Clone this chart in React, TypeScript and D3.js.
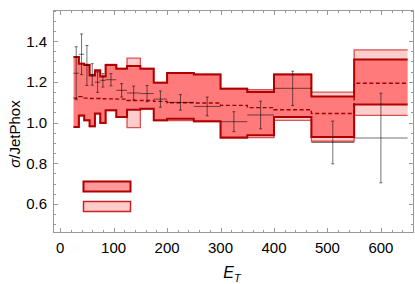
import React, { useEffect, useRef } from "react";
import * as d3 from "d3";

// E_T bin edges (GeV)
const binEdges = [25, 35, 45, 55, 65, 75, 85, 105, 125, 150, 175, 200, 250, 300, 350, 400, 470, 550, 650];

// inner (dark-edged) band
const innerUp = [1.322, 1.288, 1.283, 1.231, 1.256, 1.226, 1.283, 1.264, 1.277, 1.264, 1.195, 1.243, 1.236, 1.166, 1.150, 1.236, 1.128, 1.309];
const innerLo = [0.978, 1.035, 1.011, 0.982, 1.044, 0.998, 1.060, 1.027, 1.063, 1.068, 1.011, 1.018, 1.006, 0.926, 0.938, 1.027, 0.929, 1.088];

// outer (light) band
const outerUp = [1.324, 1.290, 1.285, 1.233, 1.258, 1.228, 1.285, 1.266, 1.316, 1.266, 1.197, 1.245, 1.238, 1.168, 1.161, 1.238, 1.149, 1.357];
const outerLo = [0.976, 1.033, 1.009, 0.980, 1.042, 0.996, 1.058, 1.025, 0.975, 1.066, 1.009, 1.010, 1.004, 0.924, 0.926, 1.011, 0.908, 1.035];

// central prediction (dashed)
const central = [1.120, 1.127, 1.120, 1.118, 1.118, 1.117, 1.116, 1.115, 1.108, 1.108, 1.104, 1.097, 1.096, 1.084, 1.073, 1.063, 1.044, 1.193];

// data / JetPhox with errors
const dataVal = [1.242, 1.335, 1.280, 1.236, 1.198, 1.207, 1.210, 1.158, 1.145, 1.142, 1.115, 1.099, 1.079, 1.004, 1.037, 1.168, 0.902, 0.924];
const dataErr = [0.130, 0.100, 0.098, 0.053, 0.050, 0.033, 0.030, 0.033, 0.034, 0.040, 0.040, 0.038, 0.046, 0.049, 0.068, 0.084, 0.105, 0.220];

const xTicks = [0, 100, 200, 300, 400, 500, 600];
const yTicks = [0.6, 0.8, 1.0, 1.2, 1.4];

const steps = (vals: number[]) =>
  vals.flatMap((v, i) => [[binEdges[i], v], [binEdges[i + 1], v]] as [number, number][]);

const App: React.FC = () => {
  const ref = useRef<SVGSVGElement>(null);

  useEffect(() => {
    const width = 415;
    const height = 284;
    const frame = { left: 53.5, right: 413.5, top: 10.5, bottom: 232.5 };
    const font = "'Liberation Sans', Arial, sans-serif";

    const svg = d3.select(ref.current).attr("width", width).attr("height", height);
    svg.selectAll("*").remove();

    const x = d3.scaleLinear().domain([-12.5, 661]).range([frame.left, frame.right]);
    const y = d3.scaleLinear().domain([0.46, 1.55]).range([frame.bottom, frame.top]);

    const bandArea = (up: number[], lo: number[]) => {
      const pts = steps(up).map((p, i) => [p[0], p[1], steps(lo)[i][1]]);
      return d3.area<number[]>()
        .x((d) => x(d[0]))
        .y1((d) => y(d[1]))
        .y0((d) => y(d[2]))(pts);
    };
    const stepLine = d3.line<[number, number]>().x((d) => x(d[0])).y((d) => y(d[1]));

    // outer band
    svg.append("path").attr("d", bandArea(outerUp, outerLo)!).attr("fill", "rgba(255,0,0,0.2)");
    [outerUp, outerLo].forEach((vals) => {
      svg.append("path").attr("d", stepLine(steps(vals))!)
        .attr("fill", "none").attr("stroke", "#cc2020").attr("stroke-opacity", 0.75).attr("stroke-width", 1.3);
    });

    // inner band
    svg.append("path").attr("d", bandArea(innerUp, innerLo)!).attr("fill", "rgba(255,0,0,0.4)");
    [innerUp, innerLo].forEach((vals) => {
      svg.append("path").attr("d", stepLine(steps(vals))!)
        .attr("fill", "none").attr("stroke", "#b00000").attr("stroke-width", 2);
    });

    // central dashed
    svg.append("path").attr("d", stepLine(steps(central))!)
      .attr("fill", "none").attr("stroke", "#a00000").attr("stroke-width", 1.4)
      .attr("stroke-dasharray", "4,2.5");

    // data points
    const pt = svg.append("g").attr("stroke", "rgba(0,0,0,0.55)").attr("stroke-width", 1);
    dataVal.forEach((v, i) => {
      const e0 = binEdges[i], e1 = binEdges[i + 1];
      const xc = x((e0 + e1) / 2);
      pt.append("line").attr("x1", x(e0)).attr("x2", x(e1)).attr("y1", y(v)).attr("y2", y(v));
      pt.append("line").attr("x1", xc).attr("x2", xc).attr("y1", y(v - dataErr[i])).attr("y2", y(v + dataErr[i]));
      [v - dataErr[i], v + dataErr[i]].forEach((yy) => {
        pt.append("line").attr("x1", xc - 1.5).attr("x2", xc + 1.5).attr("y1", y(yy)).attr("y2", y(yy));
      });
    });

    // legend boxes
    svg.append("rect").attr("x", 83.5).attr("y", 181.5).attr("width", 47).attr("height", 10)
      .attr("fill", "rgba(255,0,0,0.4)").attr("stroke", "#b00000").attr("stroke-width", 2);
    svg.append("rect").attr("x", 83.5).attr("y", 201.5).attr("width", 47).attr("height", 10)
      .attr("fill", "rgba(255,0,0,0.2)").attr("stroke", "#cc2020").attr("stroke-width", 1.5);

    // frame
    const frameColor = "#999999";
    svg.append("rect")
      .attr("x", frame.left).attr("y", frame.top)
      .attr("width", frame.right - frame.left).attr("height", frame.bottom - frame.top)
      .attr("fill", "none").attr("stroke", frameColor).attr("stroke-width", 1);

    const tk = svg.append("g").attr("stroke", frameColor).attr("stroke-width", 1);
    d3.range(0, 661, 20).forEach((t) => {
      const len = t % 100 === 0 ? 4.5 : 2.5;
      const xx = Math.round(x(t)) + 0.5;
      tk.append("line").attr("x1", xx).attr("x2", xx).attr("y1", frame.bottom).attr("y2", frame.bottom - len);
      tk.append("line").attr("x1", xx).attr("x2", xx).attr("y1", frame.top).attr("y2", frame.top + len);
    });
    d3.range(0.5, 1.551, 0.05).forEach((t) => {
      const major = Math.abs(t * 5 - Math.round(t * 5)) < 1e-6;
      const len = major ? 4.5 : 2.5;
      const yy = Math.round(y(t)) + 0.5;
      tk.append("line").attr("x1", frame.left).attr("x2", frame.left + len).attr("y1", yy).attr("y2", yy);
      tk.append("line").attr("x1", frame.right).attr("x2", frame.right - len).attr("y1", yy).attr("y2", yy);
    });

    // tick labels
    svg.append("g").selectAll("text").data(xTicks).join("text")
      .attr("x", (d) => x(d)).attr("y", 253)
      .attr("text-anchor", "middle").attr("font-family", font).attr("font-size", 15)
      .text((d) => d3.format("d")(d));
    svg.append("g").selectAll("text").data(yTicks).join("text")
      .attr("x", 47).attr("y", (d) => y(d) + 5.5)
      .attr("text-anchor", "end").attr("font-family", font).attr("font-size", 15)
      .text((d) => d3.format(".1f")(d));

    // axis labels
    const xl = svg.append("text").attr("x", 232).attr("y", 278)
      .attr("text-anchor", "middle").attr("font-family", font).attr("font-size", 16);
    xl.append("tspan").attr("font-style", "italic").text("E");
    xl.append("tspan").attr("font-style", "italic").attr("font-size", 11).attr("dy", 4).text("T");

    const yl = svg.append("text").attr("transform", "translate(20,134) rotate(-90)")
      .attr("text-anchor", "middle").attr("font-family", font).attr("font-size", 15);
    yl.append("tspan").attr("font-style", "italic").text("σ");
    yl.append("tspan").text("/JetPhox");

    return () => {
      svg.selectAll("*").remove();
    };
  }, []);

  return <svg ref={ref} style={{ position: "absolute", left: 0, top: 0, display: "block" }}></svg>;
};

export default App;
